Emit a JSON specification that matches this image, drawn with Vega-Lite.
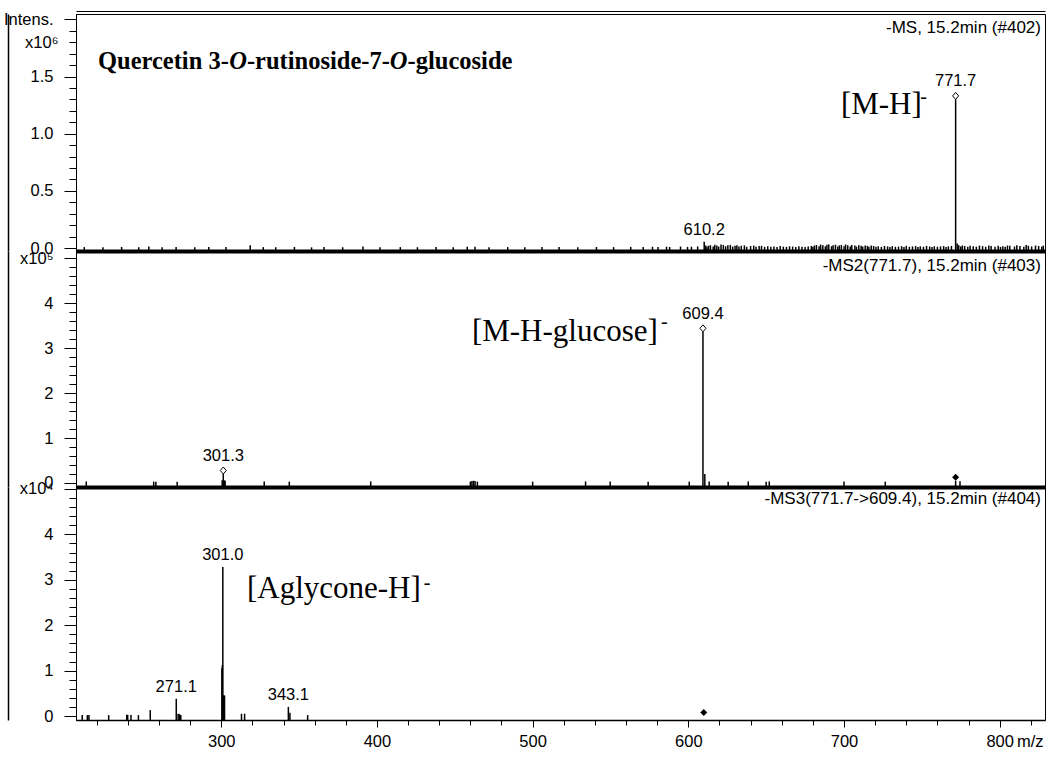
{
  "$schema": "https://vega.github.io/schema/vega-lite/v6.json",
  "background": "white",
  "padding": {"left": 2, "top": 10, "right": 0, "bottom": 0},
  "bounds": "flush",
  "spacing": 0,
  "config": {
    "view": {"stroke": "black", "strokeWidth": 1},
    "axis": {"domainColor": "black", "tickColor": "black", "labelColor": "black", "labelFont": "Liberation Sans", "labelFontSize": 16.5, "grid": false, "labelOverlap": false, "labelFlush": false, "labelBound": false, "titleFont": "Liberation Sans", "titleFontWeight": "normal", "titleFontSize": 16.5, "titleColor": "black"}
  },
  "datasets": {
    "ms1": [
      {"mz":212,"i":8000},{"mz":224,"i":6000},{"mz":236,"i":9000},{"mz":247,"i":7000},{"mz":253.5,"i":14000},{"mz":262,"i":6000},{"mz":271,"i":9000},{"mz":283,"i":7000},{"mz":292,"i":8000},{"mz":303,"i":10000},{"mz":318.6,"i":24000},{"mz":327,"i":8000},{"mz":335,"i":7000},{"mz":347,"i":9000},{"mz":358,"i":6000},{"mz":366,"i":8000},{"mz":378,"i":7000},{"mz":391,"i":13000},{"mz":402,"i":6000},{"mz":415,"i":8000},{"mz":426,"i":7000},{"mz":438,"i":9000},{"mz":449,"i":7000},{"mz":458,"i":11000},{"mz":463,"i":12000},{"mz":472,"i":7000},{"mz":484,"i":8000},{"mz":495,"i":6000},{"mz":506,"i":9000},{"mz":517,"i":8000},{"mz":529,"i":7000},{"mz":541,"i":9000},{"mz":552,"i":8000},{"mz":563,"i":10000},
      {"mz":571,"i":9000},{"mz":577,"i":11000},{"mz":580.5,"i":8000},{"mz":586,"i":12000},{"mz":588,"i":9000},{"mz":595,"i":13000},{"mz":599.5,"i":10000},{"mz":602,"i":11000},{"mz":606,"i":14000},
      {"mz":610.2,"i":55000,"label":"610.2"},{"mz":611.2,"i":22000},
      {"mz":612,"i":12000},{"mz":613,"i":20000},{"mz":614.2,"i":24000},{"mz":616,"i":14000},{"mz":617,"i":28000},{"mz":618.3,"i":22000},{"mz":619.5,"i":13000},{"mz":621,"i":30000},{"mz":622.5,"i":26000},{"mz":624,"i":15000},{"mz":625.4,"i":24000},{"mz":627,"i":27000},{"mz":628.5,"i":12000},{"mz":630,"i":21000},{"mz":631.2,"i":25000},{"mz":632.5,"i":14000},{"mz":634,"i":20000},{"mz":636,"i":23000},{"mz":637.5,"i":11000},{"mz":640,"i":18000},{"mz":642,"i":21000},{"mz":643.5,"i":12000},{"mz":645.5,"i":17000},{"mz":647,"i":19000},{"mz":649,"i":10000},{"mz":651,"i":16000},{"mz":653,"i":11000},
      {"mz":655,"i":14000},{"mz":657,"i":9000},{"mz":659,"i":17000},{"mz":661,"i":12000},{"mz":663,"i":10000},{"mz":665,"i":15000},{"mz":667,"i":13000},{"mz":669,"i":9000},{"mz":671,"i":16000},{"mz":673,"i":12000},{"mz":675,"i":10000},{"mz":677,"i":14000},{"mz":679,"i":18000},{"mz":680,"i":12000},
      {"mz":681,"i":22000},{"mz":682.3,"i":26000},{"mz":684,"i":15000},{"mz":685,"i":30000},{"mz":686.4,"i":24000},{"mz":688,"i":14000},{"mz":689,"i":28000},{"mz":690.2,"i":32000},{"mz":692,"i":16000},{"mz":693,"i":25000},{"mz":694.5,"i":29000},{"mz":696,"i":13000},{"mz":697,"i":23000},{"mz":698.3,"i":27000},{"mz":700,"i":15000},{"mz":701,"i":31000},{"mz":702.4,"i":24000},{"mz":704,"i":14000},{"mz":705,"i":26000},{"mz":707,"i":22000},{"mz":708,"i":12000},{"mz":709.5,"i":25000},{"mz":711,"i":20000},{"mz":712,"i":13000},{"mz":713.6,"i":23000},{"mz":715,"i":19000},{"mz":716,"i":11000},{"mz":717.5,"i":22000},{"mz":719,"i":18000},{"mz":720.5,"i":12000},
      {"mz":722,"i":15000},{"mz":724,"i":10000},{"mz":726,"i":18000},{"mz":728,"i":14000},{"mz":729.5,"i":9000},{"mz":731,"i":17000},{"mz":733,"i":11000},{"mz":735,"i":13000},{"mz":737,"i":16000},{"mz":738.5,"i":10000},{"mz":740,"i":19000},{"mz":742,"i":11000},{"mz":744,"i":14000},{"mz":746,"i":17000},{"mz":747.5,"i":10000},{"mz":749,"i":15000},{"mz":751,"i":11000},{"mz":753,"i":18000},{"mz":755,"i":13000},{"mz":756.5,"i":9000},{"mz":758,"i":16000},{"mz":760,"i":11000},{"mz":762,"i":14000},{"mz":764,"i":17000},{"mz":765.5,"i":10000},{"mz":767,"i":15000},{"mz":769,"i":18000},
      {"mz":771.7,"i":1300000,"label":"771.7","marker":"open"},{"mz":772.7,"i":40000},{"mz":773.7,"i":25000},{"mz":775,"i":13000},
      {"mz":776,"i":22000},{"mz":777.5,"i":18000},{"mz":779.5,"i":11000},{"mz":781,"i":20000},{"mz":783,"i":16000},{"mz":785,"i":12000},{"mz":787,"i":21000},{"mz":789,"i":17000},{"mz":791,"i":11000},{"mz":793,"i":23000},{"mz":794.5,"i":18000},{"mz":797,"i":12000},{"mz":799,"i":20000},{"mz":800.5,"i":10000},{"mz":802,"i":15000},{"mz":803.5,"i":12000},{"mz":805,"i":22000},{"mz":806.5,"i":19000},{"mz":809.5,"i":13000},{"mz":811,"i":24000},{"mz":813,"i":18000},{"mz":815.5,"i":12000},{"mz":817,"i":26000},{"mz":818.4,"i":20000},{"mz":820.5,"i":13000},{"mz":823,"i":22000},{"mz":825,"i":18000},{"mz":827,"i":12000},{"mz":828,"i":21000}
    ],
    "ms2": [
      {"mz":213.3,"i":3500},{"mz":256.6,"i":3000},{"mz":258,"i":2500},{"mz":271.7,"i":3000},
      {"mz":300.6,"i":6000},{"mz":301.3,"i":20000,"label":"301.3","marker":"open"},{"mz":301.9,"i":6000},{"mz":302.5,"i":5000},
      {"mz":327.6,"i":3500},{"mz":343.7,"i":3000},{"mz":396,"i":3500},{"mz":460,"i":3000},{"mz":461,"i":4500},{"mz":462,"i":5000},{"mz":463,"i":4500},{"mz":464.5,"i":3000},
      {"mz":500,"i":3000},{"mz":534,"i":3500},{"mz":549.8,"i":3500},{"mz":574.2,"i":3000},{"mz":600.6,"i":3000},
      {"mz":609.4,"i":336000,"label":"609.4","marker":"open"},{"mz":610.6,"i":20000},
      {"mz":613.4,"i":3500},{"mz":625.6,"i":3000},{"mz":638.5,"i":3500},{"mz":650,"i":3000},{"mz":652,"i":3500},{"mz":700,"i":3500},{"mz":726.5,"i":3000},
      {"mz":771.7,"i":5000,"marker":"filled"},{"mz":774.5,"i":4000}
    ],
    "ms3": [
      {"mz":210.7,"i":200},{"mz":214,"i":200},{"mz":215,"i":200},{"mz":227.7,"i":200},{"mz":239.3,"i":250},{"mz":239.9,"i":250},{"mz":242,"i":200},{"mz":246.8,"i":200},{"mz":254.4,"i":1300},
      {"mz":271.1,"i":3800,"label":"271.1"},{"mz":272.3,"i":500},{"mz":273.1,"i":400},{"mz":274,"i":200},
      {"mz":300.4,"i":10500},{"mz":300.7,"i":11200},{"mz":301.0,"i":32800,"label":"301.0"},{"mz":301.6,"i":4600},{"mz":302.1,"i":4500},
      {"mz":313,"i":500},{"mz":315,"i":500},{"mz":343.1,"i":2000,"label":"343.1"},{"mz":344.1,"i":700},{"mz":355.5,"i":200},
      {"mz":609.9,"i":0,"marker":"filled"}
    ],
    "notes": [
      {"panel":1,"kind":"title","mz":220.8,"i":1565000,"text":"Quercetin 3-"},
      {"panel":1,"kind":"titleItalic","mz":305.1,"i":1565000,"text":"O"},
      {"panel":1,"kind":"title","mz":316.5,"i":1565000,"text":"-rutinoside-7-"},
      {"panel":1,"kind":"titleItalic","mz":408.3,"i":1565000,"text":"O"},
      {"panel":1,"kind":"title","mz":419.7,"i":1565000,"text":"-glucoside"},
      {"panel":1,"kind":"ion","mz":698.0,"i":1172000,"text":"[M-H]"},
      {"panel":1,"kind":"sup","mz":749.0,"i":1268000,"text":"-"},
      {"panel":1,"kind":"scan","mz":826.5,"i":1924000,"text":"-MS, 15.2min (#402)"},
      {"panel":2,"kind":"ion","mz":461.0,"i":315600,"text":"[M-H-glucose]"},
      {"panel":2,"kind":"sup","mz":582.5,"i":344400,"text":"-"},
      {"panel":2,"kind":"scan","mz":826.5,"i":482000,"text":"-MS2(771.7), 15.2min (#403)"},
      {"panel":3,"kind":"ion","mz":316.5,"i":26000,"text":"[Aglycone-H]"},
      {"panel":3,"kind":"sup","mz":430.0,"i":27970,"text":"-"},
      {"panel":3,"kind":"scan","mz":826.5,"i":47800,"text":"-MS3(771.7->609.4), 15.2min (#404)"}
    ]
  },
  "vconcat": [
    {
      "width": 969, "height": 237,
      "resolve": {"axis": {"x": "independent", "y": "independent"}},
      "layer": [
        {
          "data": {"name": "ms1"},
          "transform": [{"filter": "datum.i > 0"}],
          "mark": {"type": "rule", "color": "black", "strokeWidth": 1.5},
          "encoding": {
            "x": {"field": "mz", "type": "quantitative", "scale": {"domain": [206.7, 829.1], "nice": false, "zero": false},
                  "axis": {"orient": "bottom", "labels": false, "ticks": false, "title": null, "domainWidth": 4}},
            "y": {"field": "i", "type": "quantitative", "scale": {"domain": [-26000, 2047000], "nice": false, "zero": false},
                  "axis": {"title": null, "orient": "left", "labelOverlap": false, "values": [0,100000,200000,300000,400000,500000,600000,700000,800000,900000,1000000,1100000,1200000,1300000,1400000,1500000,1600000,1700000,1800000,1900000,2000000],
                           "labelExpr": "datum.value == 2000000 ? 'Intens.' : (datum.value == 1800000 ? 'x10⁶' : (abs(datum.value/500000 - round(datum.value/500000)) < 0.001 ? format(datum.value/1000000, '.1f') : ''))",
                           "tickSize": {"condition": {"test": "abs(datum.value/500000 - round(datum.value/500000)) < 0.001", "value": 12}, "value": 7},
                           "labelPadding": 11}},
            "y2": {"datum": -26000}
          }
        },
        {
          "data": {"name": "ms1"},
          "transform": [{"filter": "datum.marker == 'open'"}],
          "mark": {"type": "point", "shape": "M0,-1L0.43,-0.5L0,0L-0.43,-0.5Z", "size": 196, "filled": false, "stroke": "black", "strokeWidth": 1, "opacity": 1},
          "encoding": {"x": {"field": "mz", "type": "quantitative", "axis": null}, "y": {"field": "i", "type": "quantitative", "axis": null}}
        },
        {
          "data": {"name": "ms1"},
          "transform": [{"filter": "datum.label != null && datum.marker == 'open'"}],
          "mark": {"type": "text", "baseline": "bottom", "dy": -10, "font": "Liberation Sans", "fontSize": 16.5, "color": "black"},
          "encoding": {"x": {"field": "mz", "type": "quantitative", "axis": null}, "y": {"field": "i", "type": "quantitative", "axis": null}, "text": {"field": "label"}}
        },
        {
          "data": {"name": "ms1"},
          "transform": [{"filter": "datum.label != null && datum.marker != 'open'"}],
          "mark": {"type": "text", "baseline": "bottom", "dy": -4, "font": "Liberation Sans", "fontSize": 16.5, "color": "black"},
          "encoding": {"x": {"field": "mz", "type": "quantitative", "axis": null}, "y": {"field": "i", "type": "quantitative", "axis": null}, "text": {"field": "label"}}
        },
        {
          "data": {"name": "notes"},
          "transform": [{"filter": "datum.panel == 1 && datum.kind == 'title'"}],
          "mark": {"type": "text", "align": "left", "baseline": "alphabetic", "font": "Liberation Serif", "fontSize": 24.5, "fontWeight": "bold", "color": "black"},
          "encoding": {"x": {"field": "mz", "type": "quantitative", "axis": null}, "y": {"field": "i", "type": "quantitative", "axis": null}, "text": {"field": "text"}}
        },
        {
          "data": {"name": "notes"},
          "transform": [{"filter": "datum.panel == 1 && datum.kind == 'titleItalic'"}],
          "mark": {"type": "text", "align": "left", "baseline": "alphabetic", "font": "Liberation Serif", "fontSize": 24.5, "fontWeight": "bold", "fontStyle": "italic", "color": "black"},
          "encoding": {"x": {"field": "mz", "type": "quantitative", "axis": null}, "y": {"field": "i", "type": "quantitative", "axis": null}, "text": {"field": "text"}}
        },
        {
          "data": {"name": "notes"},
          "transform": [{"filter": "datum.panel == 1 && datum.kind == 'ion'"}],
          "mark": {"type": "text", "align": "left", "baseline": "alphabetic", "font": "Liberation Serif", "fontSize": 31, "color": "black"},
          "encoding": {"x": {"field": "mz", "type": "quantitative", "axis": null}, "y": {"field": "i", "type": "quantitative", "axis": null}, "text": {"field": "text"}}
        },
        {
          "data": {"name": "notes"},
          "transform": [{"filter": "datum.panel == 1 && datum.kind == 'sup'"}],
          "mark": {"type": "text", "align": "left", "baseline": "alphabetic", "font": "Liberation Serif", "fontSize": 20, "color": "black"},
          "encoding": {"x": {"field": "mz", "type": "quantitative", "axis": null}, "y": {"field": "i", "type": "quantitative", "axis": null}, "text": {"field": "text"}}
        },
        {
          "data": {"name": "notes"},
          "transform": [{"filter": "datum.panel == 1 && datum.kind == 'scan'"}],
          "mark": {"type": "text", "align": "right", "baseline": "middle", "font": "Liberation Sans", "fontSize": 17, "color": "black"},
          "encoding": {"x": {"field": "mz", "type": "quantitative", "axis": {"orient": "top", "offset": 3, "labels": false, "ticks": false, "title": null, "domainWidth": 1.2}},
                       "y": {"field": "i", "type": "quantitative", "axis": {"orient": "left", "offset": 68, "labels": false, "ticks": false, "title": null, "domainWidth": 1.5}},
                       "text": {"field": "text"}}
        }
      ]
    },
    {
      "width": 969, "height": 236,
      "resolve": {"axis": {"y": "independent"}},
      "layer": [
        {
          "data": {"name": "ms2"},
          "transform": [{"filter": "datum.i > 0"}],
          "mark": {"type": "rule", "color": "black", "strokeWidth": 1.5},
          "encoding": {
            "x": {"field": "mz", "type": "quantitative", "scale": {"domain": [206.7, 829.1], "nice": false, "zero": false},
                  "axis": {"orient": "bottom", "labels": false, "ticks": false, "title": null, "domainWidth": 4}},
            "y": {"field": "i", "type": "quantitative", "scale": {"domain": [-8890, 515600], "nice": false, "zero": false},
                  "axis": {"title": null, "orient": "left", "labelOverlap": false, "values": [0,20000,40000,60000,80000,100000,120000,140000,160000,180000,200000,220000,240000,260000,280000,300000,320000,340000,360000,380000,400000,420000,440000,460000,480000,500000],
                           "labelExpr": "datum.value == 500000 ? 'x10⁵' : (abs(datum.value/100000 - round(datum.value/100000)) < 0.001 ? format(datum.value/100000, 'd') : '')",
                           "tickSize": {"condition": {"test": "abs(datum.value/100000 - round(datum.value/100000)) < 0.001", "value": 12}, "value": 7},
                           "labelPadding": 11}},
            "y2": {"datum": -8890}
          }
        },
        {
          "data": {"name": "ms2"},
          "transform": [{"filter": "datum.marker == 'open'"}],
          "mark": {"type": "point", "shape": "M0,-1L0.43,-0.5L0,0L-0.43,-0.5Z", "size": 196, "filled": false, "stroke": "black", "strokeWidth": 1, "opacity": 1},
          "encoding": {"x": {"field": "mz", "type": "quantitative"}, "y": {"field": "i", "type": "quantitative", "axis": null}}
        },
        {
          "data": {"name": "ms2"},
          "transform": [{"filter": "datum.marker == 'filled'"}],
          "mark": {"type": "point", "shape": "M0,-1L0.5,-0.5L0,0L-0.5,-0.5Z", "size": 196, "filled": true, "fill": "black", "opacity": 1},
          "encoding": {"x": {"field": "mz", "type": "quantitative"}, "y": {"field": "i", "type": "quantitative", "axis": null}}
        },
        {
          "data": {"name": "ms2"},
          "transform": [{"filter": "datum.label != null && datum.marker == 'open'"}],
          "mark": {"type": "text", "baseline": "bottom", "dy": -10, "font": "Liberation Sans", "fontSize": 16.5, "color": "black"},
          "encoding": {"x": {"field": "mz", "type": "quantitative"}, "y": {"field": "i", "type": "quantitative", "axis": null}, "text": {"field": "label"}}
        },
        {
          "data": {"name": "notes"},
          "transform": [{"filter": "datum.panel == 2 && datum.kind == 'ion'"}],
          "mark": {"type": "text", "align": "left", "baseline": "alphabetic", "font": "Liberation Serif", "fontSize": 31, "color": "black"},
          "encoding": {"x": {"field": "mz", "type": "quantitative"}, "y": {"field": "i", "type": "quantitative", "axis": null}, "text": {"field": "text"}}
        },
        {
          "data": {"name": "notes"},
          "transform": [{"filter": "datum.panel == 2 && datum.kind == 'sup'"}],
          "mark": {"type": "text", "align": "left", "baseline": "alphabetic", "font": "Liberation Serif", "fontSize": 20, "color": "black"},
          "encoding": {"x": {"field": "mz", "type": "quantitative"}, "y": {"field": "i", "type": "quantitative", "axis": null}, "text": {"field": "text"}}
        },
        {
          "data": {"name": "notes"},
          "transform": [{"filter": "datum.panel == 2 && datum.kind == 'scan'"}],
          "mark": {"type": "text", "align": "right", "baseline": "middle", "font": "Liberation Sans", "fontSize": 17, "color": "black"},
          "encoding": {"x": {"field": "mz", "type": "quantitative"},
                       "y": {"field": "i", "type": "quantitative", "axis": {"orient": "left", "offset": 68, "labels": false, "ticks": false, "title": null, "domainWidth": 1.5}},
                       "text": {"field": "text"}}
        }
      ]
    },
    {
      "width": 969, "height": 233,
      "resolve": {"axis": {"x": "independent", "y": "independent"}},
      "layer": [
        {
          "data": {"name": "ms3"},
          "transform": [{"filter": "datum.i > 0"}],
          "mark": {"type": "rule", "color": "black", "strokeWidth": 1.5},
          "encoding": {
            "x": {"field": "mz", "type": "quantitative", "scale": {"domain": [206.7, 829.1], "nice": false, "zero": false},
                  "axis": {"orient": "bottom", "format": "d", "labelOverlap": false, "values": [300,400,500,600,700,800],
                           "tickSize": 7, "labelPadding": 6, "domainWidth": 1.3,
                           "title": "m/z", "titleAnchor": "end", "titleAlign": "right", "titleBaseline": "middle", "titleX": 967, "titleY": 21}},
            "y": {"field": "i", "type": "quantitative", "scale": {"domain": [-880, 50440], "nice": false, "zero": false},
                  "axis": {"title": null, "orient": "left", "labelOverlap": false, "values": [0,2000,4000,6000,8000,10000,12000,14000,16000,18000,20000,22000,24000,26000,28000,30000,32000,34000,36000,38000,40000,42000,44000,46000,48000,50000],
                           "labelExpr": "datum.value == 50000 ? 'x10⁴' : (abs(datum.value/10000 - round(datum.value/10000)) < 0.001 ? format(datum.value/10000, 'd') : '')",
                           "tickSize": {"condition": {"test": "abs(datum.value/10000 - round(datum.value/10000)) < 0.001", "value": 12}, "value": 7},
                           "labelPadding": 11}},
            "y2": {"datum": -880}
          }
        },
        {
          "data": {"name": "ms3"},
          "transform": [{"filter": "datum.marker == 'filled'"}],
          "mark": {"type": "point", "shape": "M0,-1L0.5,-0.5L0,0L-0.5,-0.5Z", "size": 196, "filled": true, "fill": "black", "opacity": 1},
          "encoding": {"x": {"field": "mz", "type": "quantitative",
                             "axis": {"orient": "bottom", "labels": false, "domain": false, "title": null, "tickSize": 5,
                                      "values": [220,240,260,280,320,340,360,380,420,440,460,480,520,540,560,580,620,640,660,680,720,740,760,780,820]}},
                       "y": {"field": "i", "type": "quantitative", "axis": null}}
        },
        {
          "data": {"name": "ms3"},
          "transform": [{"filter": "datum.label != null"}],
          "mark": {"type": "text", "baseline": "bottom", "dy": -4, "font": "Liberation Sans", "fontSize": 16.5, "color": "black"},
          "encoding": {"x": {"field": "mz", "type": "quantitative", "axis": null}, "y": {"field": "i", "type": "quantitative", "axis": null}, "text": {"field": "label"}}
        },
        {
          "data": {"name": "notes"},
          "transform": [{"filter": "datum.panel == 3 && datum.kind == 'ion'"}],
          "mark": {"type": "text", "align": "left", "baseline": "alphabetic", "font": "Liberation Serif", "fontSize": 31, "color": "black"},
          "encoding": {"x": {"field": "mz", "type": "quantitative", "axis": null}, "y": {"field": "i", "type": "quantitative", "axis": null}, "text": {"field": "text"}}
        },
        {
          "data": {"name": "notes"},
          "transform": [{"filter": "datum.panel == 3 && datum.kind == 'sup'"}],
          "mark": {"type": "text", "align": "left", "baseline": "alphabetic", "font": "Liberation Serif", "fontSize": 20, "color": "black"},
          "encoding": {"x": {"field": "mz", "type": "quantitative", "axis": null}, "y": {"field": "i", "type": "quantitative", "axis": null}, "text": {"field": "text"}}
        },
        {
          "data": {"name": "notes"},
          "transform": [{"filter": "datum.panel == 3 && datum.kind == 'scan'"}],
          "mark": {"type": "text", "align": "right", "baseline": "middle", "font": "Liberation Sans", "fontSize": 17, "color": "black"},
          "encoding": {"x": {"field": "mz", "type": "quantitative", "axis": null},
                       "y": {"field": "i", "type": "quantitative", "axis": {"orient": "left", "offset": 68, "labels": false, "ticks": false, "title": null, "domainWidth": 1.5}},
                       "text": {"field": "text"}}
        }
      ]
    }
  ]
}
